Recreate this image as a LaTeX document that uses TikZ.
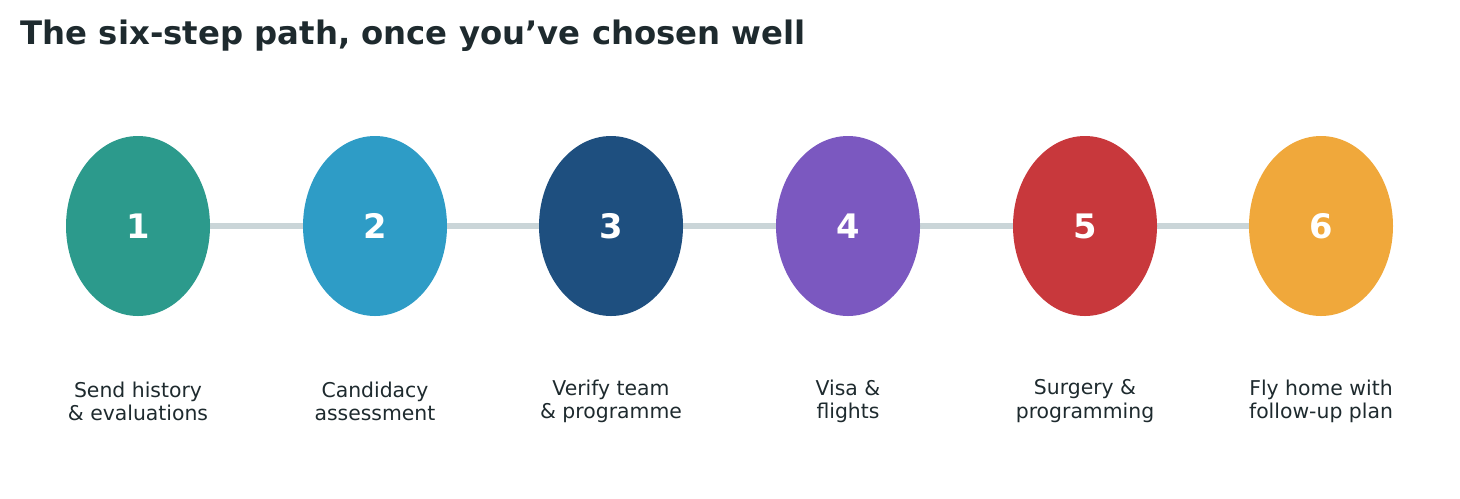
\documentclass[tikz,border=0pt]{standalone}
\usepackage{fontspec}
\setmainfont{DejaVu Sans}
\usepackage{tikz}
\usetikzlibrary{shapes.geometric}
\pgfdeclarelayer{bg}
\pgfsetlayers{bg,main}
\definecolor{ink}{HTML}{1E2A2E}
\definecolor{rail}{HTML}{CAD5D8}
\definecolor{c1}{HTML}{2C9A8C}
\definecolor{c2}{HTML}{2E9CC6}
\definecolor{c3}{HTML}{1E4F7F}
\definecolor{c4}{HTML}{7B58C0}
\definecolor{c5}{HTML}{C8383C}
\definecolor{c6}{HTML}{F0A83B}
\tikzset{
  stage/.style={ellipse, minimum width=1.44cm, minimum height=1.8cm, inner sep=0pt,
    text=white, font=\fontsize{9.6}{10}\selectfont\bfseries},
  caption/.style={align=center, text=ink, font=\fontsize{5.8}{6.6}\selectfont},
}
\begin{document}
\begin{tikzpicture}
        \useasboundingbox (0,0) rectangle (14.60,4.98);
        \node (title) [anchor=west, text=ink, font=\fontsize{9.2}{10}\selectfont\bfseries, inner sep=0pt] at (0.20cm, 4.62cm) {The six-step path, once you've chosen well};
        \node (v1) [stage, fill=c1] at (1.38cm, 2.72cm) {1};
        \node (v2) [stage, fill=c2] at (3.75cm, 2.72cm) {2};
        \node (v3) [stage, fill=c3] at (6.11cm, 2.72cm) {3};
        \node (v4) [stage, fill=c4] at (8.48cm, 2.72cm) {4};
        \node (v5) [stage, fill=c5] at (10.85cm, 2.72cm) {5};
        \node (v6) [stage, fill=c6] at (13.21cm, 2.72cm) {6};
        \node (t1) [caption] at (1.38cm, 0.97cm) {Send history\\\& evaluations};
        \node (t2) [caption] at (3.75cm, 0.97cm) {Candidacy\\assessment};
        \node (t3) [caption] at (6.11cm, 0.97cm) {Verify team\\\& programme};
        \node (t4) [caption] at (8.48cm, 0.97cm) {Visa \&\\flights};
        \node (t5) [caption] at (10.85cm, 0.97cm) {Surgery \&\\programming};
        \node (t6) [caption] at (13.21cm, 0.97cm) {Fly home with\\follow-up plan};
        \begin{pgfonlayer}{bg}
                \draw [rail, line width=1.7pt] (v1.center) -- (v6.center);
        \end{pgfonlayer}
\end{tikzpicture}
\end{document}
